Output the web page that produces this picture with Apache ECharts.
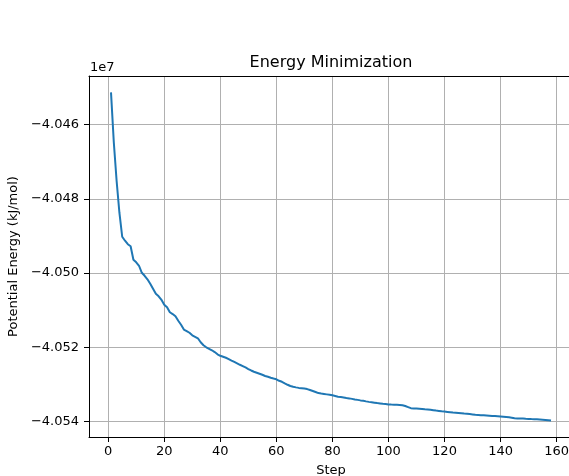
<!DOCTYPE html>
<html>
<head>
<meta charset="utf-8">
<script src="https://cdn.jsdelivr.net/npm/echarts@6/dist/echarts.min.js"></script>
<style>
  html, body { margin: 0; padding: 0; background: #ffffff; }
  #chart { width: 569px; height: 476px; }
</style>
</head>
<body>
<div id="chart"></div>
<script>
// Potential energy (kJ/mol) at each minimization step, steps 1..N
const energy = [
  -40451292, -40464718, -40475098, -40483725, -40490195, -40491274, -40492217, -40492756, -40496396, -40497070,
  -40498014, -40499901, -40500710, -40501653, -40502866, -40504214, -40505562, -40506236, -40507180, -40508528,
  -40509202, -40510550, -40511035, -40511628, -40512842, -40513920, -40515214, -40515618, -40516077, -40516751,
  -40517155, -40517560, -40518638, -40519447, -40519986, -40520390, -40520795, -40521280, -40521873, -40522278,
  -40522547, -40522817, -40523167, -40523572, -40523949, -40524327, -40524704, -40525054, -40525432, -40525863,
  -40526241, -40526591, -40526861, -40527130, -40527400, -40527724, -40527939, -40528209, -40528425, -40528613,
  -40529018, -40529287, -40529692, -40530096, -40530420, -40530635, -40530797, -40530932, -40531013, -40531094,
  -40531255, -40531498, -40531768, -40532037, -40532334, -40532468, -40532576, -40532684, -40532792, -40532927,
  -40533116, -40533304, -40533412, -40533520, -40533655, -40533763, -40533897, -40534059, -40534167, -40534302,
  -40534410, -40534571, -40534706, -40534814, -40534922, -40535030, -40535111, -40535218, -40535299, -40535380,
  -40535434, -40535461, -40535488, -40535515, -40535596, -40535812, -40536108, -40536405, -40536459, -40536512,
  -40536566, -40536620, -40536701, -40536755, -40536836, -40536944, -40537052, -40537133, -40537240, -40537321,
  -40537402, -40537483, -40537564, -40537618, -40537699, -40537780, -40537860, -40537914, -40537995, -40538076,
  -40538184, -40538238, -40538292, -40538319, -40538373, -40538427, -40538481, -40538534, -40538588, -40538642,
  -40538696, -40538777, -40538858, -40538966, -40539101, -40539155, -40539182, -40539208, -40539262, -40539289,
  -40539343, -40539370, -40539397, -40539451, -40539505, -40539559, -40539640, -40539748
];

// Tick positions
const xTicks = [0, 20, 40, 60, 80, 100, 120, 140, 160];
const yTicks = [-40540000, -40520000, -40500000, -40480000, -40460000];

const FONT = 'DejaVu Sans';
const TEXT = '#000000';
const GRID = '#b0b0b0';

// 5% padding around the data range on both axes
function padded(lo, hi) {
  const m = (hi - lo) * 0.05;
  return [lo - m, hi + m];
}

const points = energy.map((e, i) => [i + 1, e]);
const [xMin, xMax] = padded(1, energy.length);
const [yMin, yMax] = padded(Math.min(...energy), Math.max(...energy));

// Labels shown in units of 1e7 with a typographic minus
const fmtY = v => (v / 1e7).toFixed(3).replace('-', '\u2212');

const chart = echarts.init(document.getElementById('chart'), null, { renderer: 'canvas' });

chart.setOption({
  animation: false,
  backgroundColor: '#ffffff',
  textStyle: { fontFamily: FONT },
  title: {
    text: 'Energy Minimization',
    left: 326,
    top: 50,
    textAlign: 'center',
    textStyle: { fontFamily: FONT, fontSize: 16, fontWeight: 'normal', color: TEXT }
  },
  graphic: [{
    type: 'text',
    left: 90,
    top: 61,
    style: { text: '1e7', fontFamily: FONT, fontSize: 13, fill: TEXT }
  }],
  grid: { left: 89, top: 76, width: 484, height: 361, outerBoundsMode: 'none', containLabel: false },
  xAxis: [{
    type: 'value',
    position: 'bottom',
    min: xMin,
    max: xMax,
    axisLine: { onZero: false, lineStyle: { color: TEXT, width: 1 } },
    axisTick: { customValues: xTicks, length: 5, lineStyle: { color: TEXT, width: 1 } },
    axisLabel: { customValues: xTicks, margin: 8, color: TEXT, fontFamily: FONT, fontSize: 13 },
    splitLine: { show: true, lineStyle: { color: GRID, width: 1 } },
    name: 'Step',
    nameLocation: 'middle',
    nameGap: 27,
    nameTextStyle: { color: TEXT, fontFamily: FONT, fontSize: 13 }
  }, {
    type: 'value',
    position: 'top',
    min: xMin,
    max: xMax,
    axisLine: { show: true, onZero: false, lineStyle: { color: TEXT, width: 1 } },
    axisTick: { show: false },
    axisLabel: { show: false },
    splitLine: { show: false }
  }],
  yAxis: {
    type: 'value',
    min: yMin,
    max: yMax,
    axisLine: { show: true, onZero: false, lineStyle: { color: TEXT, width: 1 } },
    axisTick: { show: true, customValues: yTicks, length: 5, lineStyle: { color: TEXT, width: 1 } },
    axisLabel: { customValues: yTicks, margin: 10, color: TEXT, fontFamily: FONT, fontSize: 13, formatter: fmtY },
    splitLine: { show: true, lineStyle: { color: GRID, width: 1 } },
    name: 'Potential Energy (kJ/mol)',
    nameLocation: 'middle',
    nameGap: 63,
    nameTextStyle: { color: TEXT, fontFamily: FONT, fontSize: 13 }
  },
  series: [{
    type: 'line',
    xAxisIndex: 0,
    data: points,
    showSymbol: false,
    symbol: 'none',
    lineStyle: { color: '#1f77b4', width: 2 },
    silent: true
  }]
});
</script>
</body>
</html>
